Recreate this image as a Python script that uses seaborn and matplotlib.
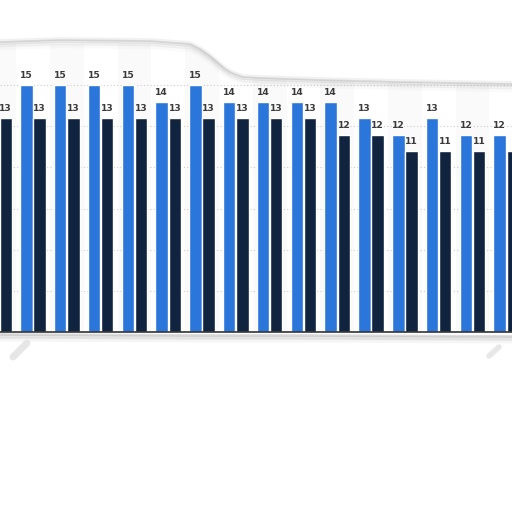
import numpy as np
import pandas as pd
import seaborn as sns
import matplotlib.pyplot as plt

# values read from the (torn) reference, one pair per season
seasons = ["S01", "S02", "S03", "S04", "S05", "S06", "S07", "S08",
           "S09", "S10", "S11", "S12", "S13", "S14", "S15", "S16"]
series_a = [15, 15, 15, 15, 15, 14, 15, 14, 14, 14, 14, 13, 12, 13, 12, 12]
series_b = [13, 13, 13, 13, 13, 13, 13, 13, 13, 13, 12, 12, 11, 11, 11, 11]
series_names = ["Series A", "Series B"]

df = pd.DataFrame({
    "season": seasons * 2,
    "series": [series_names[0]] * len(seasons) + [series_names[1]] * len(seasons),
    "value": series_a + series_b,
})

sns.set_style("white")
plt.rcParams['font.family'] = ['DejaVu Sans']

fig = plt.figure(figsize=(5.12, 5.12), dpi=100)
ax = fig.add_axes([0, (512 - 332) / 512, 1, 288 / 512])

# very faint alternating column bands
for i in range(0, len(seasons), 2):
    ax.axvspan(i - 0.5, i + 0.5, color="#fafafa", zorder=0, lw=0)

sns.barplot(data=df, x="season", y="value", hue="series",
            palette=["#2a76db", "#10243f"], width=0.78, gap=0.05,
            saturation=1, legend=False, ax=ax, zorder=2)

for cont in ax.containers:
    ax.bar_label(cont, fmt="%d", padding=3.5, fontsize=6.6,
                 fontweight="bold", color="#3a3a3a")

ax.set_ylim(0, 17.5)
ax.set_xlim(0.024, 15.17)
ax.set_yticks(np.arange(0, 17.5, 2.5))
ax.yaxis.grid(True, linestyle=(0, (1, 2)), color="#cccccc", lw=0.8, zorder=1)
ax.set_xticks([])
ax.set_yticklabels([])
ax.set_xlabel("")
ax.set_ylabel("")
for s in ["top", "left", "right"]:
    ax.spines[s].set_visible(False)
ax.spines["bottom"].set_color("#333333")
ax.spines["bottom"].set_linewidth(1.2)

# torn paper edges drawn on an overlay
ov = fig.add_axes([0, 0, 1, 1])
ov.set_xlim(0, 512)
ov.set_ylim(512, 0)
ov.axis("off")
ov.patch.set_alpha(0)

tx = [0, 60, 150, 190, 200, 210, 217, 224, 230, 237, 243, 260, 320, 400, 512]
ty = [42, 40, 41, 44, 49, 56, 62, 68, 72, 75, 77, 78, 80, 82, 84]
ov.fill_between(tx, 0, ty, color="white", zorder=5, lw=0)
for off, a, w in [(0, 0.35, 1.2), (1.5, 0.22, 2), (3.5, 0.12, 2.5), (6, 0.05, 3)]:
    ov.plot(tx, [y + off for y in ty], color="#a0a0a0", alpha=a, lw=w,
            solid_capstyle="butt", zorder=6)
ov.plot(tx, [y - 1.5 for y in ty], color="#bbbbbb", alpha=0.2, lw=2, zorder=6)

bx = [0, 100, 200, 300, 400, 512]
by = [334, 334.5, 335, 335, 335.5, 336]
for off, a, w in [(0.5, 0.35, 2), (2.5, 0.22, 3), (5, 0.1, 3.5)]:
    ov.plot(bx, [y + off for y in by], color="#a0a0a0", alpha=a, lw=w, zorder=6)
# small grey smudges under the tear
ov.plot([13, 27], [357, 343], color="#e0e0e0", lw=5, alpha=0.8,
        solid_capstyle="round", zorder=6)
ov.plot([489, 499], [356, 347], color="#e2e2e2", lw=4, alpha=0.8,
        solid_capstyle="round", zorder=6)

fig.savefig("out.png", dpi=100)
